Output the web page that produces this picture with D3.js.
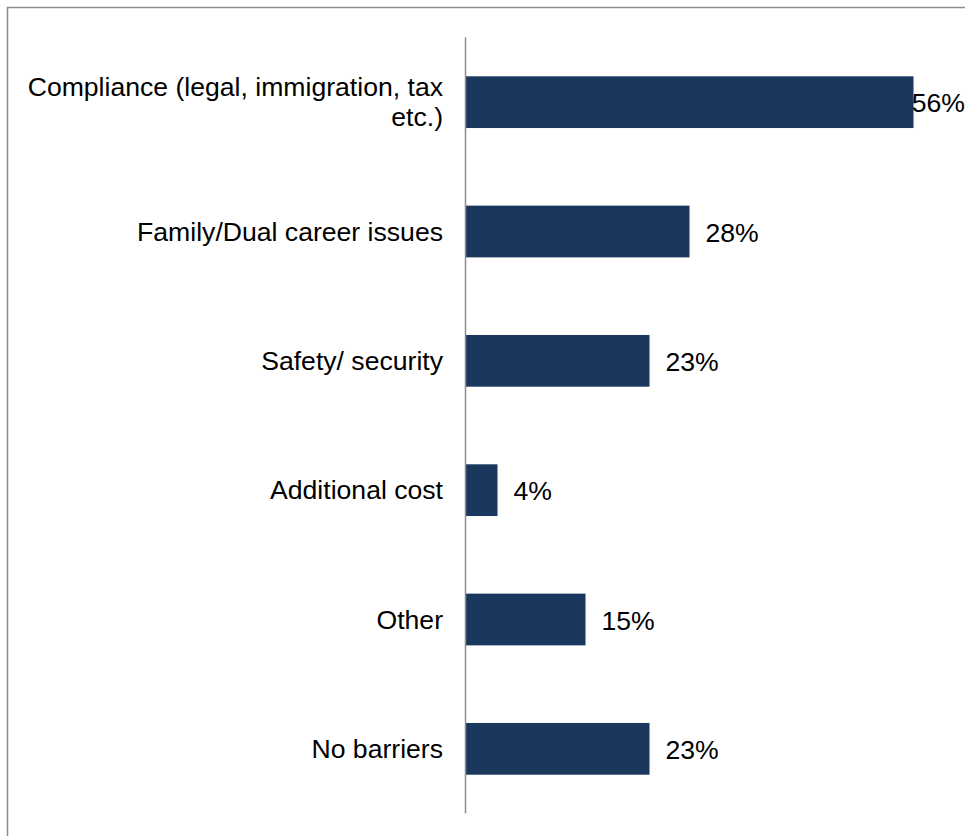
<!DOCTYPE html>
<html>
<head>
<meta charset="utf-8">
<script src="https://cdn.jsdelivr.net/npm/d3@7"></script>
<style>
  html, body { margin: 0; padding: 0; background: #fff; }
  svg { display: block; }
  text { font-family: "Liberation Sans", Arial, sans-serif; fill: #000; }
</style>
</head>
<body>
<svg id="chart" width="965" height="836"></svg>
<script>
// Barriers reported, share of respondents (%)
const categories = [
  "Compliance (legal, immigration, tax etc.)",
  "Family/Dual career issues",
  "Safety/ security",
  "Additional cost",
  "Other",
  "No barriers"
];
const categoryLines = [
  ["Compliance (legal, immigration, tax", "etc.)"],
  ["Family/Dual career issues"],
  ["Safety/ security"],
  ["Additional cost"],
  ["Other"],
  ["No barriers"]
];
const values = [56, 28, 23, 4, 15, 23];
const valueLabels = ["56%", "28%", "23%", "4%", "15%", "23%"];

const W = 965, H = 836;
const fontSize = 26.6;
const svg = d3.select("#chart");

// outer frame (only the top and left edges fall inside the view)
svg.append("rect")
  .attr("x", 7.5).attr("y", 7.5)
  .attr("width", W + 20).attr("height", H + 20)
  .attr("fill", "none").attr("stroke", "#8c8c8c").attr("stroke-width", 1.5);

const axisX = 465.5;
const x = d3.scaleLinear().domain([0, 60]).range([axisX, axisX + 480]);
const y = d3.scaleBand().domain(categories).range([37.5, 813.5])
  .paddingInner(0.6).paddingOuter(0.3);

// bars
svg.append("g").selectAll("rect")
  .data(categories)
  .join("rect")
  .attr("x", x(0))
  .attr("y", d => y(d))
  .attr("width", (d, i) => x(values[i]) - x(0))
  .attr("height", y.bandwidth())
  .attr("fill", "#1a375e");

// category axis line
svg.append("line")
  .attr("x1", axisX).attr("x2", axisX)
  .attr("y1", 37.5).attr("y2", 813.5)
  .attr("stroke", "#8c8c8c").attr("stroke-width", 1.5);

// category labels
const lineH = 29.5;
const labels = svg.append("g").selectAll("text")
  .data(categories)
  .join("text")
  .attr("text-anchor", "end")
  .attr("font-size", fontSize)
  .attr("dominant-baseline", "central");
labels.each(function(d, i) {
  const lines = categoryLines[i];
  const cy = y(d) + y.bandwidth() / 2;
  const t = d3.select(this);
  lines.forEach((ln, k) => {
    t.append("tspan")
      .attr("x", 443)
      .attr("y", cy + (k - (lines.length - 1) / 2) * lineH)
      .text(ln);
  });
});

// value labels
svg.append("g").selectAll("text")
  .data(categories)
  .join("text")
  .attr("font-size", fontSize)
  .attr("dominant-baseline", "central")
  .attr("y", d => y(d) + y.bandwidth() / 2 + 1)
  .text((d, i) => valueLabels[i])
  .attr("x", function(d, i) {
    const w = this.getComputedTextLength();
    return Math.min(x(values[i]) + 16, W - w);
  });
</script>
</body>
</html>
